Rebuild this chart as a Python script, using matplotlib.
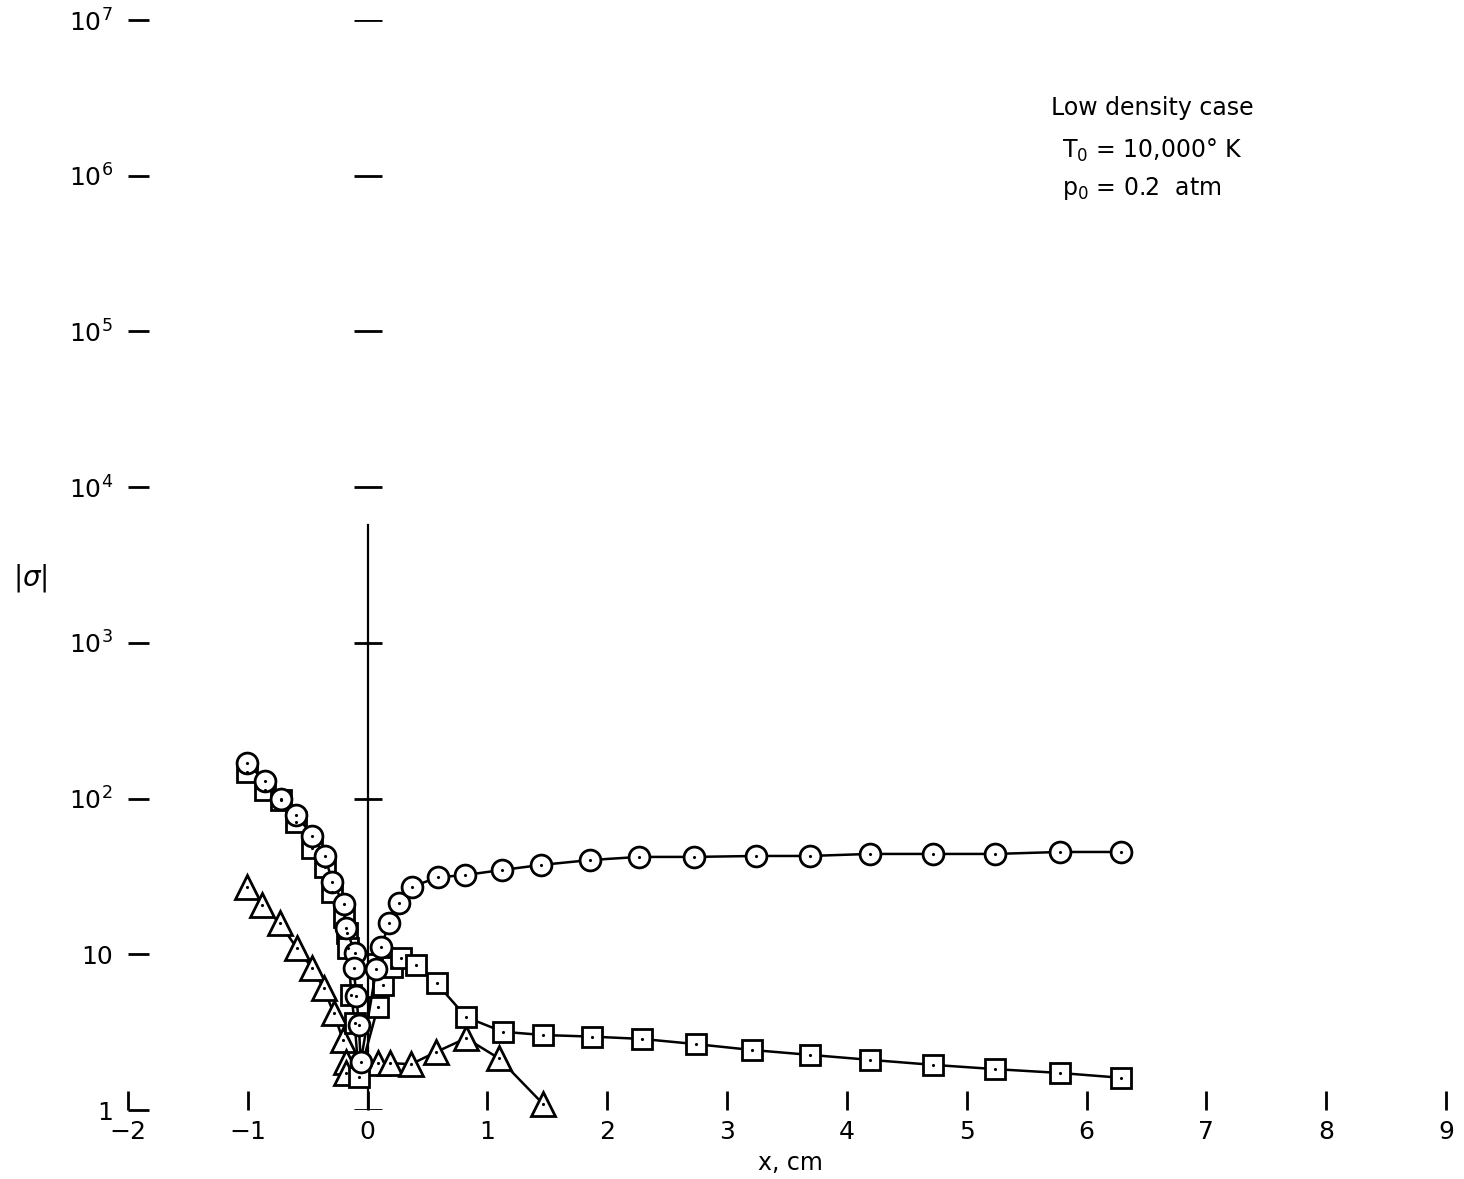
import matplotlib
matplotlib.use("Agg")
import matplotlib.pyplot as plt
import numpy as np

plt.rcParams['font.family'] = ['DejaVu Sans']

# circles
circ_x = [-1.011, -0.858, -0.725, -0.594, -0.461, -0.358, -0.294, -0.200, -0.178,
          -0.108, -0.117, -0.094, -0.073, -0.058,
          0.073, 0.114, 0.178, 0.261, 0.372, 0.586, 0.814, 1.125, 1.450, 1.858,
          2.267, 2.725, 3.242, 3.690, 4.190, 4.717, 5.240, 5.775, 6.290]
circ_y = [170, 130, 100, 78.5, 57.5, 42.8, 29.3, 21.0, 14.8,
          10.2, 8.2, 5.4, 3.5, 2.03,
          8.1, 11.2, 15.8, 21.5, 27.2, 31.2, 32.3, 34.8, 37.5, 40.3,
          42.2, 42.2, 42.8, 42.8, 44.1, 44.1, 44.1, 45.4, 45.4]

# squares
sq_x = [-1.011, -0.858, -0.725, -0.594, -0.461, -0.358, -0.294, -0.200, -0.175,
        -0.164, -0.136, -0.108, -0.073,
        0.086, 0.128, 0.203, 0.281, 0.404, 0.575, 0.825, 1.128, 1.467, 1.873,
        2.289, 2.739, 3.206, 3.690, 4.190, 4.717, 5.240, 5.775, 6.290]
sq_y = [149, 113.6, 98, 71.1, 48, 36.5, 25.2, 17.4, 13.7,
        10.9, 5.48, 3.6, 1.64,
        4.61, 6.35, 8.33, 9.43, 8.54, 6.51, 3.94, 3.18, 3.03, 2.96,
        2.86, 2.65, 2.43, 2.26, 2.10, 1.95, 1.83, 1.73, 1.61]

# triangles
tri_x = [-1.011, -0.878, -0.733, -0.589, -0.461, -0.367, -0.283, -0.206, -0.183,
         -0.178, 0.086, 0.183, 0.364, 0.567, 0.822, 1.094, 1.461]
tri_y = [27.2, 20.7, 15.8, 10.9, 8.13, 6.05, 4.18, 2.82, 2.04,
         1.72, 2.0, 2.0, 1.97, 2.35, 2.89, 2.15, 1.10]

x_ticks = [-2, -1, 0, 1, 2, 3, 4, 5, 6, 7, 8, 9]
x_labels = ['\u22122', '\u22121', '0', '1', '2', '3', '4', '5', '6', '7', '8', '9']
y_ticks = [1, 10, 1e2, 1e3, 1e4, 1e5, 1e6, 1e7]
y_labels = ['1', '10', '$10^2$', '$10^3$', '$10^4$', '$10^5$', '$10^6$', '$10^7$']

W, H = 1464, 1179
fig = plt.figure(figsize=(W / 100, H / 100), dpi=100)
ax = fig.add_axes([128 / W, 69 / H, 1318 / W, 1090 / H])
ax.set_yscale('log')
ax.set_xlim(-2, 9)
ax.set_ylim(1, 1e7)

for s in ax.spines.values():
    s.set_visible(False)

ax.set_xticks(x_ticks)
ax.set_xticklabels(x_labels, fontsize=18)
ax.set_yticks(y_ticks)
ax.set_yticklabels(y_labels, fontsize=18)
ax.minorticks_off()
ax.tick_params(axis='x', direction='in', length=14, width=2, pad=7)
ax.tick_params(axis='y', direction='in', length=15, width=2, pad=11)

# inner axis at x = 0
ax.plot([0, 0], [1, 5700], color='black', lw=1.6, zorder=1)
ax.hlines(y_ticks, -0.11, 0.12, colors='black', lw=2, zorder=1)

ax.plot(tri_x, tri_y, marker='^', color='black', lw=1.8, markersize=17,
        markeredgewidth=2, markerfacecolor='white', zorder=3, clip_on=False)
ax.plot(sq_x, sq_y, marker='s', color='black', lw=1.8, markersize=15,
        markeredgewidth=2, markerfacecolor='white', zorder=3, clip_on=False)
ax.plot(circ_x, circ_y, marker='o', color='black', lw=1.8, markersize=15,
        markeredgewidth=2, markerfacecolor='white', zorder=3, clip_on=False)
for xs, ys in [(tri_x, tri_y), (sq_x, sq_y), (circ_x, circ_y)]:
    ax.plot(xs, ys, ls='none', marker='.', color='black', markersize=2.5,
            zorder=4, clip_on=False)

fig.text(1152 / W, 1 - 108 / H, 'Low density case', fontsize=17,
         ha='center', va='center')
fig.text(1062 / W, 1 - 150 / H, '$\\mathregular{T_0}$ = 10,000\u00b0 K',
         fontsize=17, ha='left', va='center')
fig.text(1062 / W, 1 - 188 / H, '$\\mathregular{p_0}$ = 0.2  atm',
         fontsize=17, ha='left', va='center')

fig.text(30 / W, 1 - 578 / H, '|$\\sigma$|', fontsize=20, ha='center', va='center')
fig.text(790 / W, 1 - 1163 / H, 'x, cm', fontsize=17, ha='center', va='center')

fig.savefig('out.png', dpi=100)
